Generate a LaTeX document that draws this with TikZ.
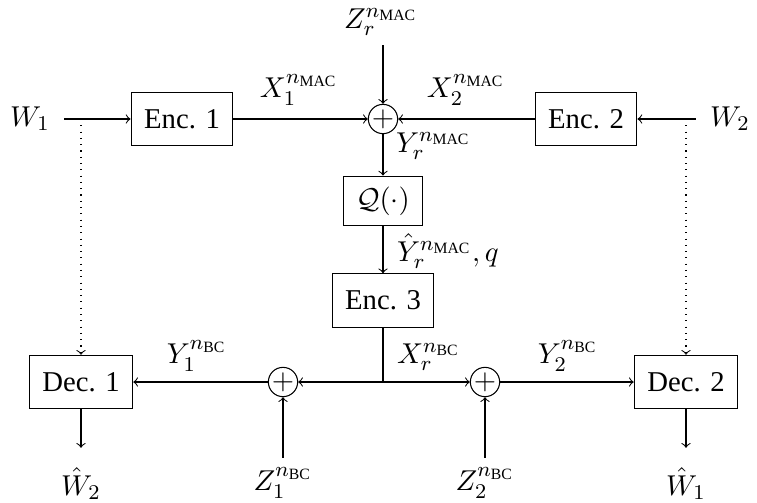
\documentclass[tikz,border=0pt]{standalone}
\usepackage{amsmath}
\usepackage{fontspec}
\setmainfont{Liberation Serif}
\newcommand{\tsub}[1]{\mbox{\fontsize{6}{7}\selectfont #1}}
\begin{document}
\begin{tikzpicture}[x=0.3815pt,y=-0.3815pt,>=to,
  font=\fontsize{10.95}{13.6}\selectfont,
  blk/.style={draw,inner xsep=5pt,inner ysep=0pt,minimum height=20.4pt},
  sumnode/.style={draw,circle,inner sep=0pt,minimum size=11pt},
  lbl/.style={inner sep=3.65pt}]
\useasboundingbox (0,0) rectangle (757,502);
% blocks
\node[blk] (enc1) at (182,119) {Enc. 1};
\node[blk] (enc2) at (586,119) {Enc. 2};
\node[sumnode] (plus) at (383,119) {$+$};
\node[blk,minimum height=19pt] (q) at (383,201) {$\mathcal{Q}(\cdot)$};
\node[blk] (enc3) at (383,300.5) {Enc. 3};
\node[blk] (dec1) at (81,382) {Dec. 1};
\node[blk] (dec2) at (686,382) {Dec. 2};
\node[sumnode] (p1) at (283,382) {$+$};
\node[sumnode] (p2) at (485,382) {$+$};
\coordinate (J) at (383,382);
\coordinate (s1) at (81,119);
\coordinate (s2) at (686,119);
% labels
\node[lbl] (W1) at (30,119) {$W_1$};
\node[lbl] (W2) at (730,119) {$W_2$};
\node[lbl,anchor=base] (Zr) at (381,28) {$Z_r^{n_{\tsub{MAC}}}$};
\node[lbl,anchor=base] (X1) at (299,97) {$X_1^{n_{\tsub{MAC}}}$};
\node[lbl,anchor=base] (X2) at (466,97) {$X_2^{n_{\tsub{MAC}}}$};
\node[lbl,anchor=base west] (Yr) at (386,152) {$Y_r^{n_{\tsub{MAC}}}$};
\node[lbl,anchor=base west] (Yh) at (387,261) {$\hat{Y}_r^{n_{\tsub{MAC}}}, q$};
\node[lbl,anchor=base west] (Xr) at (387,363) {$X_r^{n_{\tsub{BC}}}$};
\node[lbl,anchor=base] (Y1) at (197,363) {$Y_1^{n_{\tsub{BC}}}$};
\node[lbl,anchor=base] (Y2) at (568,363) {$Y_2^{n_{\tsub{BC}}}$};
\node[lbl,anchor=base] (Wh2) at (81,495) {$\hat{W}_2$};
\node[lbl,anchor=base] (Wh1) at (686,495) {$\hat{W}_1$};
\node[lbl,anchor=base] (Z1) at (283,490) {$Z_1^{n_{\tsub{BC}}}$};
\node[lbl,anchor=base] (Z2) at (485,490) {$Z_2^{n_{\tsub{BC}}}$};
% connectors
\draw[->,shorten <=1.6pt] (W1) -- (enc1);
\draw[->] (enc1) -- (plus);
\draw[->,shorten <=1.6pt] (W2) -- (enc2);
\draw[->] (enc2) -- (plus);
\draw[->] (Zr.south -| plus) -- (plus);
\draw[->] (plus) -- (q);
\draw[->] (q) -- (enc3);
\draw (enc3) -- (J);
\draw[->] (J) -- (p1);
\draw[->] (J) -- (p2);
\draw[->] (p1) -- (dec1);
\draw[->] (p2) -- (dec2);
\draw[->] (Z1.north -| p1) -- (p1);
\draw[->] (Z2.north -| p2) -- (p2);
\draw[->,shorten >=3.8pt] (dec1) -- (Wh2.north -| dec1);
\draw[->,shorten >=3.8pt] (dec2) -- (Wh1.north -| dec2);
\draw[->,dotted] (s1) -- (dec1);
\draw[->,dotted] (s2) -- (dec2);
\end{tikzpicture}
\end{document}
